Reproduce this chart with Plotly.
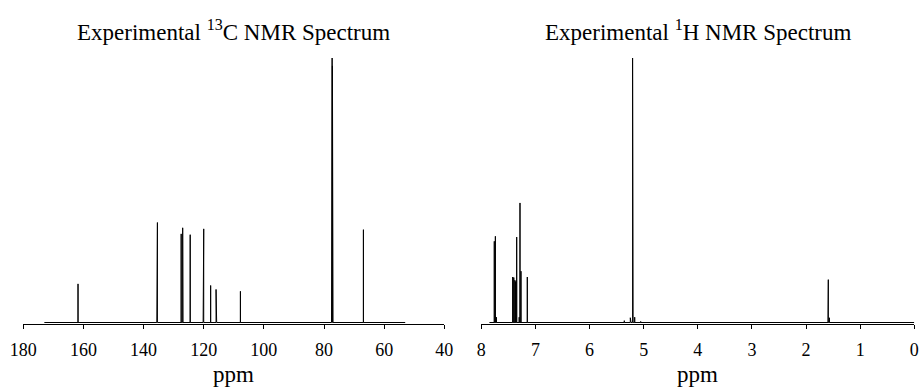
import plotly.graph_objects as go

# ---- data ----
c13_shift = [161.8, 135.6, 135.4, 127.5, 127.0, 126.9, 124.5, 120.2, 120.0, 117.7, 115.9, 115.7, 107.8, 77.5, 77.3, 77.2, 77.0, 66.9]
c13_height = [0.146, 0.177, 0.378, 0.335, 0.358, 0.064, 0.332, 0.345, 0.354, 0.14, 0.125, 0.116, 0.118, 0.95, 1.0, 0.97, 0.93, 0.351]
c13_range = [173.0, 53.0]

h1_shift = [7.76, 7.74, 7.72, 7.42, 7.40, 7.38, 7.365, 7.346, 7.30, 7.285, 7.267, 7.15, 5.358, 5.247, 5.234, 5.205, 5.195, 5.166, 5.055, 1.595, 1.589, 1.57]
h1_height = [0.307, 0.326, 0.02, 0.172, 0.17, 0.16, 0.155, 0.323, 0.02, 0.452, 0.194, 0.172, 0.007, 0.018, 0.018, 1.0, 0.206, 0.02, 0.004, 0.11, 0.162, 0.018]
h1_range = [7.85, 0.0]

c13_ticks = [180, 160, 140, 120, 100, 80, 60, 40]
h1_ticks = [8, 7, 6, 5, 4, 3, 2, 1, 0]


def stick_path(shifts, heights, rng):
    pairs = sorted(zip(shifts, heights), key=lambda p: -p[0])
    xs, ys = [rng[0]], [0.0]
    for s, h in pairs:
        xs += [s, s, s]
        ys += [0.0, h, 0.0]
    xs.append(rng[1])
    ys.append(0.0)
    return xs, ys


cx, cy = stick_path(c13_shift, c13_height, c13_range)
hx, hy = stick_path(h1_shift, h1_height, h1_range)

W, H = 920, 388
top, bottom = 58, 324.5
FONT = "Liberation Serif"

fig = go.Figure()
fig.add_trace(go.Scatter(x=cx, y=cy, mode="lines", line=dict(color="black", width=1),
                         xaxis="x", yaxis="y", showlegend=False, hoverinfo="skip"))
fig.add_trace(go.Scatter(x=hx, y=hy, mode="lines", line=dict(color="black", width=1),
                         xaxis="x2", yaxis="y2", showlegend=False, hoverinfo="skip"))

d1 = [23.3 / W, 444.3 / W]
d2 = [481.3 / W, 914.3 / W]
ybot = -1.5 / 265

axis_common = dict(showgrid=False, zeroline=False, showline=True, linecolor="black", linewidth=1,
                   ticks="outside", ticklen=4, tickcolor="black", tickwidth=1, automargin=False,
                   tickfont=dict(family=FONT, size=18, color="black"), ticklabelstandoff=5)
yaxis_common = dict(showgrid=False, zeroline=False, showline=False, showticklabels=False,
                    ticks="", range=[ybot, 1.0], fixedrange=True, automargin=False)

fig.update_layout(
    width=W, height=H,
    margin=dict(l=0, r=0, t=top, b=H - bottom, autoexpand=False),
    paper_bgcolor="white", plot_bgcolor="white",
    font=dict(family=FONT, color="black"),
    xaxis=dict(domain=d1, range=[180, 40], tickvals=c13_ticks, anchor="y", **axis_common),
    yaxis=dict(domain=[0, 1], anchor="x", **yaxis_common),
    xaxis2=dict(domain=d2, range=[8, 0], tickvals=h1_ticks, anchor="y2", **axis_common),
    yaxis2=dict(domain=[0, 1], anchor="x2", **yaxis_common),
)

ph = bottom - top
ann = []
for dom, title in [(d1, "Experimental <sup>13</sup>C NMR Spectrum"),
                   (d2, "Experimental <sup>1</sup>H NMR Spectrum")]:
    cxp = (dom[0] + dom[1]) / 2
    ann.append(dict(text=title, x=cxp, y=(bottom - 30) / ph, xref="paper", yref="paper",
                    xanchor="center", yanchor="middle", showarrow=False,
                    font=dict(family=FONT, size=23, color="black")))
    ann.append(dict(text="ppm", x=cxp, y=(bottom - 375) / ph, xref="paper", yref="paper",
                    xanchor="center", yanchor="middle", showarrow=False,
                    font=dict(family=FONT, size=23, color="black")))
fig.update_layout(annotations=ann)

fig.write_html("out.html", config={"displayModeBar": False},
               post_script="document.body.style.margin='0';document.body.style.overflow='hidden';")
